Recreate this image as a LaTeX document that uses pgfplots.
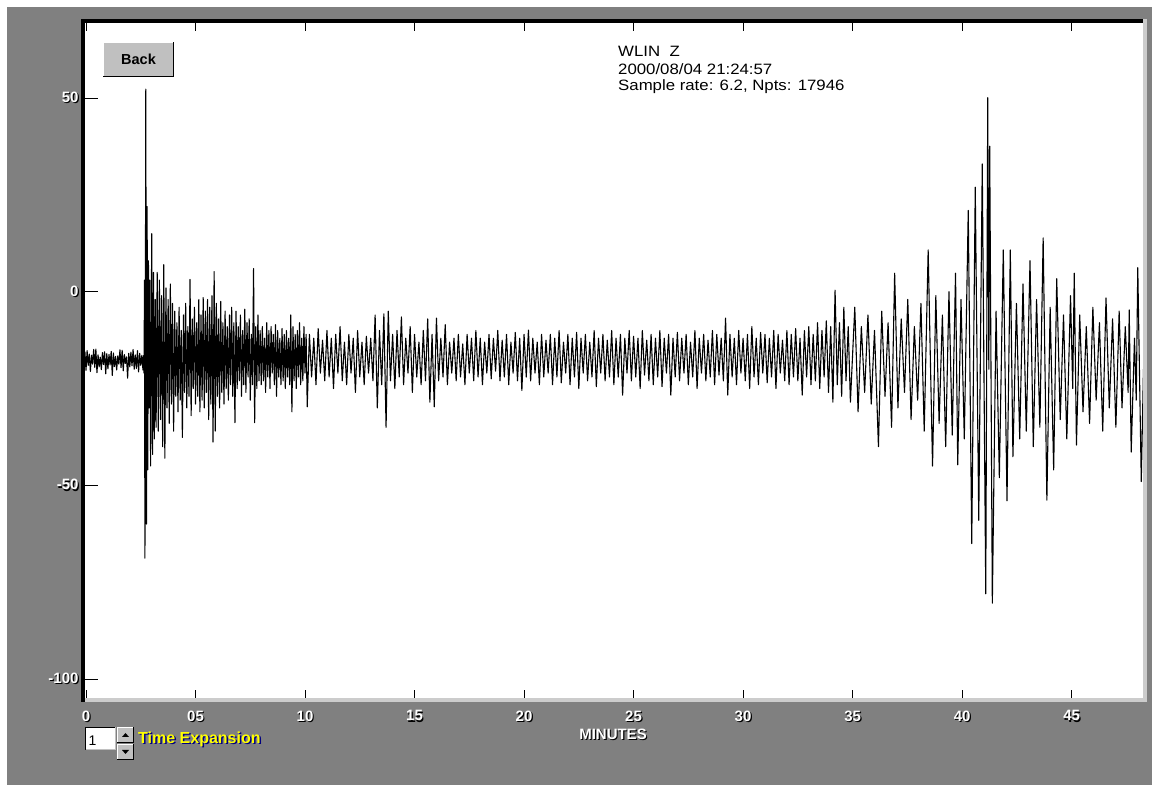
\documentclass[border=0pt]{standalone}
\usepackage{pgfplots}
\pgfplotsset{compat=1.18}
\usepackage{fontspec}
\setmainfont{Liberation Sans}
\newfontfamily\hdrfont[FakeStretch=1.12]{Liberation Sans}
\definecolor{bg}{HTML}{808080}
\definecolor{btn}{HTML}{C0C0C0}
\definecolor{lite}{HTML}{CCCCCC}
\definecolor{navysh}{HTML}{000080}
\definecolor{yel}{HTML}{FFFF00}
\newcommand{\emb}[1]{\makebox[0pt][l]{\hspace{1.2pt}\raisebox{-1.2pt}{\textcolor{black}{#1}}}\textcolor{white}{#1}}
\begin{document}
\begin{tikzpicture}[x=1pt,y=1pt]
\fill[white] (0,0) rectangle (1152,785);
\fill[bg] (7,0) rectangle (1152,778);
\begin{axis}[name=ax, at={(85pt,87pt)}, anchor=south west, scale only axis,
  width=1058pt, height=675pt,
  xmin=-0.046, xmax=48.26, ymin=-104.9, ymax=69.4,
  axis background/.style={fill=white},
  axis line style={draw=none},
  tick align=inside, major tick length=8pt,
  tick style={draw=black, line width=1pt},
  xtick={0,5,10,15,20,25,30,35,40,45},
  xticklabels={\emb{0},\emb{05},\emb{10},\emb{15},\emb{20},\emb{25},\emb{30},\emb{35},\emb{40},\emb{45}},
  ytick={-100,-50,0,50},
  yticklabels={\emb{-100},\emb{-50},\emb{0},\emb{50}},
  xtick pos=both, ytick pos=left,
  xticklabel pos=lower, yticklabel pos=left,
  ytick style={/pgfplots/major tick length=13pt},
  ticklabel style={font=\fontsize{15}{15}\selectfont\bfseries},
  xticklabel style={yshift=-9pt},
  yticklabel style={xshift=-3pt},
  clip=true,
]
\addplot[black, line width=1.1pt, line join=round] coordinates {
(-0.15,-16.0) (-0.10,-19.8) (-0.05,-15.5) (0.00,-20.3) (0.05,-15.2) (0.10,-19.0) (0.15,-16.1) (0.20,-20.6) (0.25,-16.4) (0.30,-18.7)
(0.35,-14.9) (0.40,-19.5) (0.45,-14.8) (0.50,-20.9) (0.55,-16.3) (0.60,-19.4) (0.65,-16.9) (0.70,-20.1) (0.75,-15.7) (0.80,-18.8)
(0.85,-15.5) (0.90,-21.2) (0.95,-16.0) (1.00,-19.9) (1.05,-16.2) (1.10,-18.9) (1.15,-15.4) (1.20,-21.6) (1.25,-15.8) (1.30,-19.3)
(1.35,-16.7) (1.40,-20.2) (1.45,-16.6) (1.50,-18.7) (1.55,-15.0) (1.60,-19.6) (1.65,-15.1) (1.70,-20.4) (1.75,-16.2) (1.80,-18.5)
(1.85,-16.8) (1.90,-22.3) (1.95,-15.9) (2.00,-19.4) (2.05,-15.6) (2.10,-19.1) (2.15,-14.9) (2.20,-20.0) (2.25,-16.3) (2.30,-19.8)
(2.35,-15.2) (2.40,-20.7) (2.45,-15.9) (2.50,-19.0) (2.55,-16.4) (2.60,-20.2) (2.63,-16.5) (2.65,-21)
(2.67,3) (2.69,-68.8) (2.73,52.3) (2.76,-60) (2.79,22) (2.82,-46) (2.85,8) (2.88,-30) (2.91,3) (2.95,-45)
(3.00,15) (3.04,-42) (3.08,5) (3.12,-38) (3.16,-2) (3.20,-35)
(3.25,5) (3.30,-36) (3.35,3) (3.40,-33) (3.45,-1) (3.50,-40) (3.55,7) (3.60,-43) (3.65,1) (3.70,-30)
(3.75,-2) (3.80,-34) (3.85,2) (3.90,-29) (3.95,-3) (4.00,-36) (4.05,-5) (4.10,-27) (4.15,-8) (4.20,-31)
(4.25,-4) (4.30,-28) (4.35,-10) (4.40,-37.6) (4.45,-6) (4.50,-26) (4.55,-3) (4.60,-30) (4.65,-9) (4.70,-27)
(4.75,3.2) (4.80,-32) (4.85,-7) (4.90,-25) (4.95,-4) (5.00,-29) (5.05,-8) (5.10,-27) (5.15,-2) (5.20,-31)
(5.25,-6) (5.30,-28) (5.35,-1.5) (5.40,-30) (5.45,-5) (5.50,-26) (5.55,-2) (5.60,-33) (5.65,-4) (5.70,-29)
(5.75,-1) (5.80,-38.8) (5.85,5.2) (5.90,-36) (5.95,-3) (6.00,-27) (6.05,-7) (6.10,-30) (6.15,-2.5) (6.20,-26)
(6.25,-8) (6.30,-29) (6.35,-5) (6.40,-25) (6.45,-9) (6.50,-28) (6.55,-6) (6.60,-24) (6.65,-4) (6.70,-27)
(6.75,-8) (6.80,-33.8) (6.85,-5) (6.90,-25) (6.95,-9) (7.00,-23) (7.05,-6) (7.10,-27) (7.15,-10) (7.20,-24)
(7.25,-4.5) (7.30,-26) (7.35,-8) (7.40,-22) (7.45,-7) (7.50,-28) (7.55,-11) (7.60,-24) (7.65,6) (7.70,-33.8)
(7.75,-9) (7.80,-25) (7.85,-6) (7.90,-23) (7.95,-10)
(8.00,-24) (8.05,-9) (8.10,-23) (8.15,-12) (8.20,-26) (8.25,-8) (8.30,-22) (8.35,-10) (8.40,-25) (8.45,-9)
(8.50,-21) (8.55,-11) (8.60,-24) (8.65,-8.5) (8.70,-27) (8.75,-10) (8.80,-22) (8.85,-12) (8.90,-24) (8.95,-9.5)
(9.00,-23) (9.05,-11) (9.10,-25) (9.15,-10) (9.20,-22) (9.25,-12) (9.30,-24) (9.35,-6) (9.40,-31) (9.45,-9)
(9.50,-23) (9.55,-11) (9.60,-25) (9.65,-10) (9.70,-22) (9.75,-8) (9.80,-24) (9.85,-12) (9.90,-23) (9.95,-9)
(10.00,-21) (10.05,-11)
(10.1,-29.7) (10.2,-11) (10.3,-22) (10.4,-12) (10.5,-24) (10.6,-9.5) (10.7,-21) (10.8,-12.5) (10.9,-23) (11.0,-10)
(11.1,-22) (11.2,-12) (11.3,-25) (11.4,-11) (11.5,-21) (11.6,-9) (11.7,-23) (11.8,-13) (11.9,-24) (12.0,-11)
(12.1,-21) (12.2,-12) (12.3,-26) (12.4,-10) (12.5,-22) (12.6,-13) (12.7,-24) (12.8,-11.5) (12.9,-21) (13.0,-12)
(13.1,-23) (13.2,-6) (13.3,-30) (13.4,-10) (13.5,-24) (13.6,-5.7) (13.7,-35) (13.8,-5) (13.9,-23) (14.0,-11)
(14.1,-25) (14.2,-10) (14.3,-22) (14.4,-6.5) (14.5,-24) (14.6,-12) (14.7,-21) (14.8,-9) (14.9,-26) (15.0,-11)
(15.1,-22) (15.2,-13) (15.3,-24) (15.4,-10) (15.5,-23) (15.6,-7) (15.7,-28.5) (15.8,-11) (15.9,-29.7) (16.0,-6.8)
(16.1,-23) (16.2,-12) (16.3,-22) (16.4,-8.5) (16.5,-24) (16.6,-13) (16.7,-21) (16.8,-12) (16.9,-23) (17.0,-11)
(17.1,-22) (17.2,-13.5) (17.3,-24) (17.4,-11) (17.5,-21) (17.6,-12) (17.7,-23) (17.8,-10) (17.9,-22) (18.0,-12)
(18.1,-24) (18.2,-13) (18.3,-21) (18.4,-11) (18.5,-22.5) (18.6,-12) (18.7,-20.5) (18.8,-10) (18.9,-23) (19.0,-12.5)
(19.1,-22) (19.2,-11) (19.3,-24) (19.4,-13) (19.5,-21) (19.6,-10.5) (19.7,-23) (19.8,-12) (19.9,-25.5) (20.0,-11)
(20.1,-22) (20.2,-9.9) (20.3,-23) (20.4,-12) (20.5,-21) (20.6,-13) (20.7,-24) (20.8,-11) (20.9,-22) (21.0,-12.5)
(21.1,-21) (21.2,-11) (21.3,-24) (21.4,-12) (21.5,-22) (21.6,-10) (21.7,-23.5) (21.8,-13) (21.9,-21) (22.0,-11)
(22.1,-24) (22.2,-12) (22.3,-22) (22.4,-10.5) (22.5,-25) (22.6,-12) (22.7,-21) (22.8,-11) (22.9,-23) (23.0,-13)
(23.1,-22) (23.2,-10) (23.3,-24.5) (23.4,-12) (23.5,-21) (23.6,-11) (23.7,-23) (23.8,-12.5) (23.9,-22) (24.0,-10)
(24.1,-24) (24.2,-12) (24.3,-22) (24.4,-11) (24.5,-26.7) (24.6,-12) (24.7,-21) (24.8,-10) (24.9,-23) (25.0,-11.5)
(25.1,-22) (25.2,-12) (25.3,-25) (25.4,-10) (25.5,-21.5) (25.6,-12.5) (25.7,-23) (25.8,-11) (25.9,-24) (26.0,-12)
(26.1,-22) (26.2,-10) (26.3,-24.5) (26.4,-12) (26.5,-21) (26.6,-11) (26.7,-26.7) (26.8,-12) (26.9,-22) (27.0,-10.5)
(27.1,-23) (27.2,-12) (27.3,-21) (27.4,-11) (27.5,-24) (27.6,-13) (27.7,-22) (27.8,-10) (27.9,-25) (28.0,-12)
(28.1,-21) (28.2,-11) (28.3,-23) (28.4,-12.5) (28.5,-22) (28.6,-10) (28.7,-24) (28.8,-11) (28.9,-21.5) (29.0,-12)
(29.1,-23) (29.2,-6.8) (29.3,-26.7) (29.4,-11) (29.5,-22) (29.6,-12) (29.7,-24) (29.8,-10) (29.9,-21) (30.0,-12)
(30.1,-23) (30.2,-11) (30.3,-25) (30.4,-9) (30.5,-22) (30.6,-12) (30.7,-24) (30.8,-10.5) (30.9,-21) (31.0,-11)
(31.1,-23.5) (31.2,-12) (31.3,-22) (31.4,-10) (31.5,-25) (31.6,-11) (31.7,-21) (31.8,-12.5) (31.9,-23) (32.0,-10)
(32.1,-24) (32.2,-11) (32.3,-22) (32.4,-9.5) (32.5,-23) (32.6,-12) (32.7,-26.7) (32.8,-10) (32.9,-22) (33.0,-9)
(33.1,-24) (33.2,-11) (33.3,-23) (33.4,-8) (33.5,-25) (33.6,-10) (33.7,-22) (33.8,-7.5) (33.9,-26) (34.0,-9)
(34.1,-28.5) (34.2,0.4) (34.3,-24) (34.4,-8) (34.5,-27) (34.6,-4) (34.7,-23) (34.8,-9) (34.9,-28.5)
(35.10,-4) (35.25,-31) (35.40,-9) (35.55,-26) (35.70,-6) (35.85,-29) (36.00,-10) (36.18,-40) (36.33,-5) (36.48,-27)
(36.62,-8) (36.78,-35) (36.92,4.8) (37.07,-30) (37.22,-7) (37.37,-26) (37.52,-2) (37.67,-33) (37.82,-9) (37.97,-28)
(38.12,-3) (38.27,-36) (38.45,10.8) (38.65,-45) (38.80,-1) (38.95,-34) (39.10,-6) (39.25,-40) (39.40,0) (39.55,-37)
(39.70,4.8) (39.80,-44.7) (39.95,-2) (40.10,-38) (40.28,21) (40.44,-65) (40.60,27) (40.76,-59) (40.92,33) (41.08,-78)
(41.17,50.1) (41.22,-20) (41.26,37.6) (41.38,-80.4) (41.55,-5) (41.70,-48) (41.88,10.8) (42.05,-54) (42.20,10.8) (42.32,-42.6)
(42.48,-3) (42.63,-38) (42.78,2) (42.93,-36) (43.10,8) (43.25,-40) (43.40,-2) (43.55,-35) (43.70,13.9) (43.87,-53.8)
(44.02,-4) (44.18,-46) (44.32,3.4) (44.48,-33) (44.63,-6) (44.78,-38) (44.95,-1) (45.05,-25) (45.12,4.8) (45.22,-39.6)
(45.37,-6) (45.52,-31) (45.67,-9) (45.82,-34) (45.97,-4) (46.12,-28) (46.27,-8) (46.42,-36) (46.57,-1.6) (46.72,-30)
(46.87,-7) (47.02,-35) (47.17,-5) (47.30,-30) (47.45,-9) (47.58,-26) (47.63,-4.7) (47.72,-41.4) (47.87,-12) (47.95,-28)
(48.02,6.2) (48.18,-49) (48.28,-20)
};
\end{axis}
% sunken frame
\fill[black] (81,83) rectangle (85,765.5);
\fill[black] (81,762) rectangle (1143,765.5);
\fill[lite] (1143,83) rectangle (1146.5,765.5);
\fill[lite] (85,83) rectangle (1146.5,87);
% x axis title
\node[font=\fontsize{15}{15}\selectfont\bfseries, inner sep=0pt] at (613,50) {\emb{MINUTES}};
% Back button
\fill[btn] (103,708) rectangle (174,743);
\draw[white, line width=1pt] (103.5,708.5) -- (103.5,742.5) -- (173.5,742.5);
\draw[black, line width=1.2pt] (103,708.6) -- (173.4,708.6) -- (173.4,743);
\node[font=\fontsize{14.5}{14.5}\selectfont\bfseries, inner sep=0pt] at (138.5,726) {Back};
% header
\node[font=\hdrfont\fontsize{15}{15}\selectfont, anchor=base west, inner sep=0pt] at (618,728.3) {WLIN~~Z};
\node[font=\hdrfont\fontsize{15}{15}\selectfont, anchor=base west, inner sep=0pt] at (618,710) {2000/08/04 21:24:57};
\node[font=\hdrfont\fontsize{15}{15}\selectfont, anchor=base west, inner sep=0pt] at (618,694.5) {Sample rate: 6.2, Npts: 17946};
% spin box
\fill[white] (85,35) rectangle (116,58);
\draw[black, line width=1pt] (85.5,35) -- (85.5,57.5) -- (116,57.5);
\draw[btn, line width=1pt] (85.5,35.5) -- (115.5,35.5) -- (115.5,57.5);
\node[font=\fontsize{14}{14}\selectfont, anchor=base west, inner sep=0pt] at (88.5,39.5) {1};
\fill[btn] (117,42) rectangle (134,58);
\draw[white, line width=1pt] (117.5,42.5) -- (117.5,57.5) -- (133.5,57.5);
\draw[black, line width=1pt] (117,42.5) -- (133.5,42.5) -- (133.5,58);
\fill[black] (122,48) -- (129,48) -- (125.5,52) -- cycle;
\fill[btn] (117,25) rectangle (134,41);
\draw[white, line width=1pt] (117.5,25.5) -- (117.5,40.5) -- (133.5,40.5);
\draw[black, line width=1pt] (117,25.5) -- (133.5,25.5) -- (133.5,41);
\fill[black] (122,35) -- (129,35) -- (125.5,31) -- cycle;
% Time Expansion
\node[font=\fontsize{16}{16}\selectfont\bfseries, anchor=west, inner sep=0pt] at (138,45)
  {\makebox[0pt][l]{\hspace{1.5pt}\raisebox{-1.5pt}{\textcolor{navysh}{Time Expansion}}}\textcolor{yel}{Time Expansion}};
\pgfresetboundingbox
\path[use as bounding box] (0,0) rectangle (1152,785);
\end{tikzpicture}
\end{document}
